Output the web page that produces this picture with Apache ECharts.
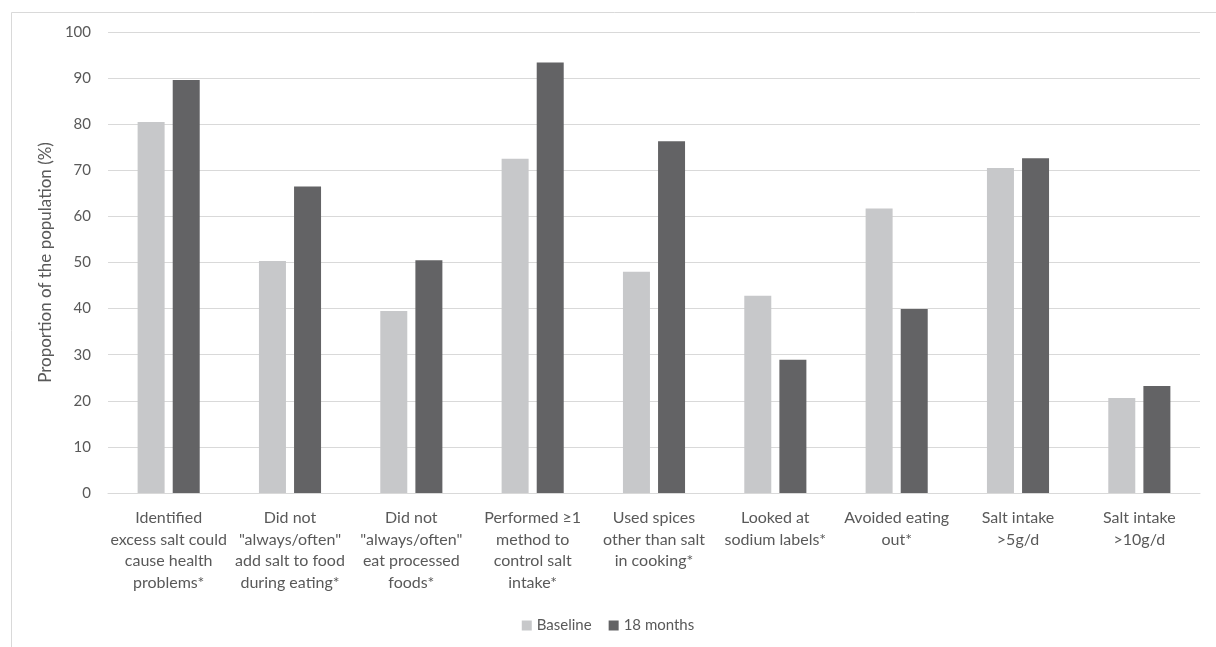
<!DOCTYPE html>
<html>
<head>
<meta charset="utf-8">
<script src="https://cdn.jsdelivr.net/npm/echarts@6/dist/echarts.min.js"></script>
<style>html,body{margin:0;padding:0;background:#fff;}#c{width:1216px;height:647px;}</style>
</head>
<body>
<div id="c"></div>
<script>
const categories = [
  'Identified\nexcess salt could\ncause health\nproblems*',
  'Did not\n"always/often"\nadd salt to food\nduring eating*',
  'Did not\n"always/often"\neat processed\nfoods*',
  'Performed \u22651\nmethod to\ncontrol salt\nintake*',
  'Used spices\nother than salt\nin cooking*',
  'Looked at\nsodium labels*',
  'Avoided eating\nout*',
  'Salt intake\n>5g/d',
  'Salt intake\n>10g/d'
];
const seriesNames = ['Baseline', '18 months'];
const baseline = [80.5, 50.3, 39.5, 72.5, 48.0, 42.8, 61.7, 70.5, 20.6];
const months18 = [89.6, 66.5, 50.5, 93.4, 76.3, 28.9, 39.9, 72.6, 23.2];
const yTicks = { min: 0, max: 100, interval: 10 };
const yTitle = 'Proportion of the population (%)';

const FONT = 'Lato, "Open Sans", sans-serif';
const TXT = '#595959';
const chart = echarts.init(document.getElementById('c'), null, { renderer: 'canvas' });
chart.setOption({
  animation: false,
  backgroundColor: '#fff',
  graphic: [{
    type: 'rect', left: 9, top: 10, silent: true,
    shape: { width: 1230, height: 660 },
    style: { fill: 'none', stroke: '#D9D9D9', lineWidth: 1 }
  }],
  grid: { left: 108, right: 16, top: 32, bottom: 154, containLabel: false },
  legend: {
    data: seriesNames,
    top: 613,
    left: 'center',
    icon: 'rect',
    itemWidth: 10, itemHeight: 10, itemGap: 17,
    textStyle: { color: TXT, fontSize: 15, fontFamily: FONT }
  },
  xAxis: {
    type: 'category',
    data: categories,
    axisLine: { lineStyle: { color: '#D9D9D9', width: 1 } },
    axisTick: { show: false },
    axisLabel: {
      interval: 0, color: TXT, fontSize: 16, lineHeight: 21.7,
      fontFamily: FONT, margin: 14, align: 'center'
    }
  },
  yAxis: {
    type: 'value',
    min: yTicks.min, max: yTicks.max, interval: yTicks.interval,
    name: yTitle,
    nameLocation: 'middle',
    nameGap: 54,
    nameTextStyle: { color: TXT, fontSize: 17, fontFamily: FONT },
    axisLine: { show: false },
    axisTick: { show: false },
    axisLabel: { color: TXT, fontSize: 15, fontFamily: FONT, margin: 17 },
    splitLine: { lineStyle: { color: '#D9D9D9', width: 1 } }
  },
  series: [
    {
      name: seriesNames[0], type: 'bar', data: baseline,
      barWidth: 27, barGap: '30%',
      itemStyle: { color: '#C7C8CA' }
    },
    {
      name: seriesNames[1], type: 'bar', data: months18,
      barWidth: 27, barGap: '30%',
      itemStyle: { color: '#636365' }
    }
  ]
});
</script>
</body>
</html>
